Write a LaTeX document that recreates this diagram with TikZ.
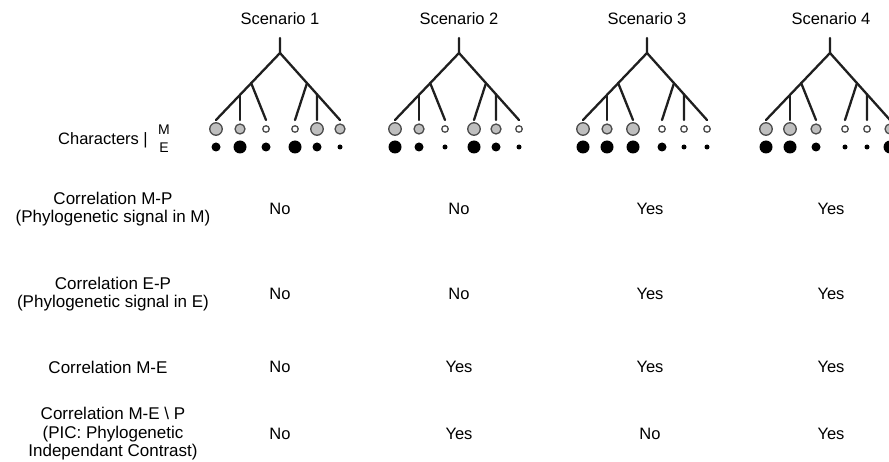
\documentclass[tikz,border=0pt]{standalone}
\usepackage{fontspec}
\setmainfont{Liberation Sans}
\usetikzlibrary{calc}
\usetikzlibrary{positioning}

% one tree: name, root x, sizes of the M dots, sizes of the E dots
\providecommand\sctree[4]{
    \coordinate (#1top) at (#2,38);
    \coordinate (#1r) at (#2,53);
    \foreach \d [count=\i] in {-64,-40,-14,15,37,60}
        \coordinate (#1l\i) at (#2+\d,120);
    \coordinate (#1a) at ($(#1r)!0.45!(#1l1)$);
    \coordinate (#1b) at ($(#1r)!0.625!(#1l1)$);
    \coordinate (#1c) at ($(#1r)!0.45!(#1l6)$);
    \coordinate (#1d) at ($(#1r)!0.617!(#1l6)$);
    \draw[branch] (#1top) -- (#1r) -- (#1l1);
    \draw[branch] (#1r) -- (#1l6);
    \draw[branch] (#1b) -- (#1l2);
    \draw[branch] (#1a) -- (#1l3);
    \draw[branch] (#1c) -- (#1l4);
    \draw[branch] (#1d) -- (#1l5);
    \foreach \s [count=\i] in {#3}
        \node[m\s] (#1m\i) at ($(#1l\i)+(0,9)$) {};
    \foreach \s [count=\i] in {#4}
        \node[e\s] (#1e\i) at ($(#1l\i)+(0,27)$) {};
}

\begin{document}
\begin{tikzpicture}[x=1pt, y=-1pt,
    lbl/.style = {align=center, font=\fontsize{17}{18.5}\selectfont, inner sep=0pt},
    ttl/.style = {font=\fontsize{16.5}{18}\selectfont, inner sep=0pt},
    branch/.style = {line width=2.3pt, black!88, line cap=round},
    mdot/.style = {circle, draw=black!70, line width=1.3pt, inner sep=0pt},
    mL/.style = {mdot, fill=black!25, minimum size=12.5pt},
    mM/.style = {mdot, fill=black!25, minimum size=10pt},
    mS/.style = {mdot, fill=white, minimum size=6.5pt},
    edot/.style = {circle, fill=black, inner sep=0pt},
    eL/.style = {edot, minimum size=13pt},
    eM/.style = {edot, minimum size=9pt},
    eS/.style = {edot, minimum size=5pt},
    ]

    \clip (0,0) rectangle (889,462);
    \fill[white] (0,0) rectangle (889,462);

    % titles
    \node[ttl] (t1) at (280,19) {Scenario 1};
    \node[ttl] (t2) at (459,19) {Scenario 2};
    \node[ttl] (t3) at (647,19) {Scenario 3};
    \node[ttl] (t4) at (831,19) {Scenario 4};

    % trees
    \sctree{s1}{280}{L,M,S,S,L,M}{M,L,M,L,M,S}
    \sctree{s2}{459}{L,M,S,L,M,S}{L,M,S,L,M,S}
    \sctree{s3}{647}{L,M,L,S,S,S}{L,L,L,M,S,S}
    \sctree{s4}{830}{L,L,M,S,S,M}{L,L,M,S,S,L}

    % row labels
    \node[ttl, anchor=east] (ch) at (148,140) {Characters |};
    \node[font=\fontsize{14}{14}\selectfont, inner sep=0pt] (cm) at (164,130) {M};
    \node[font=\fontsize{14}{14}\selectfont, inner sep=0pt] (ce) at (164,148) {E};

    \node[lbl] (r1) at (113,209) {Correlation M-P\\(Phylogenetic signal in M)};
    \node[lbl] (r2) at (113,294) {Correlation E-P\\(Phylogenetic signal in E)};
    \node[lbl] (r3) at (108,367) {Correlation M-E};
    \node[lbl] (r4) at (113,434) {Correlation M-E \textbackslash{} P\\(PIC: Phylogenetic\\Independant Contrast)};

    % answers
    \node[ttl] (v11) at (t1 |- r1) {No};
    \node[ttl] (v12) at (t2 |- r1) {No};
    \node[ttl] (v13) at (650,209) {Yes};
    \node[ttl] (v14) at (t4 |- r1) {Yes};

    \node[ttl] (v21) at (t1 |- r2) {No};
    \node[ttl] (v22) at (t2 |- r2) {No};
    \node[ttl] (v23) at (v13 |- r2) {Yes};
    \node[ttl] (v24) at (t4 |- r2) {Yes};

    \node[ttl] (v31) at (t1 |- r3) {No};
    \node[ttl] (v32) at (t2 |- r3) {Yes};
    \node[ttl] (v33) at (v13 |- r3) {Yes};
    \node[ttl] (v34) at (t4 |- r3) {Yes};

    \node[ttl] (v41) at (t1 |- r4) {No};
    \node[ttl] (v42) at (t2 |- r4) {Yes};
    \node[ttl] (v43) at (v13 |- r4) {No};
    \node[ttl] (v44) at (t4 |- r4) {Yes};

\end{tikzpicture}
\end{document}
